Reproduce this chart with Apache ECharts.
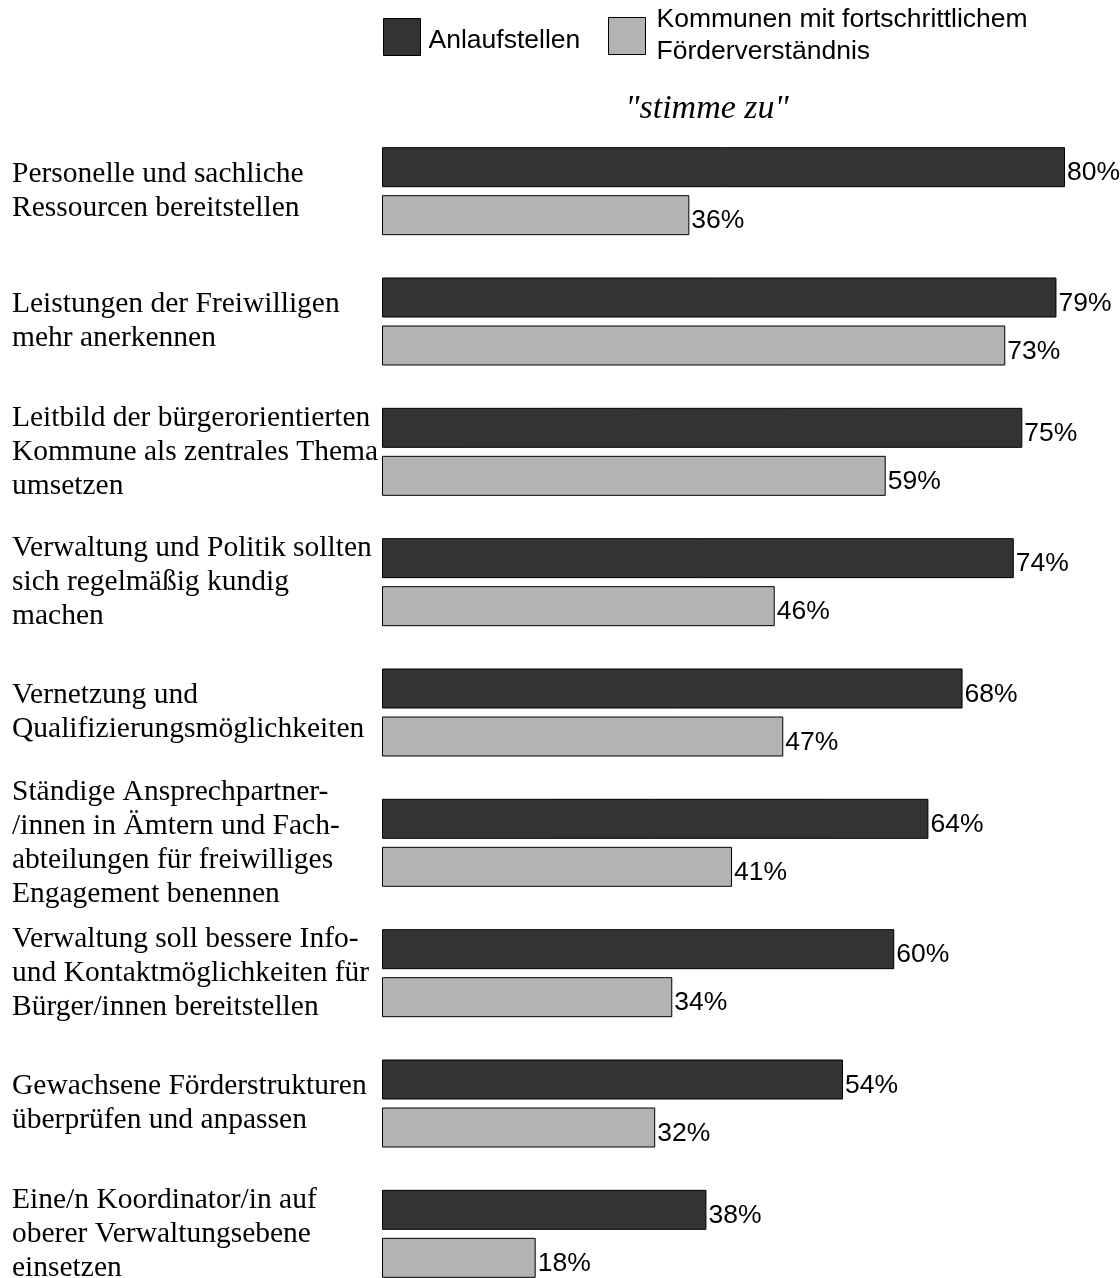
<!DOCTYPE html>
<html>
<head>
<meta charset="utf-8">
<script src="https://cdn.jsdelivr.net/npm/echarts@6/dist/echarts.min.js"></script>
<style>
html,body{margin:0;padding:0;background:#fff;overflow:hidden;}
#chart{width:1120px;height:1330px;}
</style>
</head>
<body>
<div id="chart"></div>
<script>
const categories = [
  "Personelle und sachliche\nRessourcen bereitstellen",
  "Leistungen der Freiwilligen\nmehr anerkennen",
  "Leitbild der bürgerorientierten\nKommune als zentrales Thema\numsetzen",
  "Verwaltung und Politik sollten\nsich regelmäßig kundig\nmachen",
  "Vernetzung und\nQualifizierungsmöglichkeiten",
  "Ständige Ansprechpartner-\n/innen in Ämtern und Fach-\nabteilungen für freiwilliges\nEngagement benennen",
  "Verwaltung soll bessere Info-\nund Kontaktmöglichkeiten für\nBürger/innen bereitstellen",
  "Gewachsene Förderstrukturen\nüberprüfen und anpassen",
  "Eine/n Koordinator/in auf\noberer Verwaltungsebene\neinsetzen"
];
const seriesNames = ["Anlaufstellen", "Kommunen mit fortschrittlichem\nFörderverständnis"];
const anlaufstellen = [80, 79, 75, 74, 68, 64, 60, 54, 38];
const kommunen = [36, 73, 59, 46, 47, 41, 34, 32, 18];
const subtitle = '"stimme zu"';

const chart = echarts.init(document.getElementById('chart'));
const labelStyle = {
  show: true, position: 'right', distance: 2, offset: [0, 6],
  formatter: '{c}%', color: '#000', fontSize: 26.5,
  fontFamily: 'Liberation Sans, Arial, sans-serif'
};
chart.setOption({
  animation: false,
  backgroundColor: '#fff',
  title: {
    text: subtitle, left: 707, top: 92, textAlign: 'center', padding: 0,
    textStyle: { fontFamily: 'Liberation Serif, Times New Roman, serif', fontStyle: 'italic', fontWeight: 'normal', fontSize: 34, color: '#000' }
  },
  legend: [
    { data: [seriesNames[0]], left: 383, top: 18, padding: 0, icon: 'rect', itemWidth: 37, itemHeight: 37, itemGap: 10,
      itemStyle: { borderColor: '#000', borderWidth: 1 },
      formatter: '{a|{name}}',
      textStyle: { fontFamily: 'Liberation Sans, Arial, sans-serif', fontSize: 26.5, color: '#000',
        rich: { a: { fontFamily: 'Liberation Sans, Arial, sans-serif', fontSize: 26.5, color: '#000', lineHeight: 30, padding: [8, 0, 0, 3] } } } },
    { data: [seriesNames[1]], left: 608, top: 4, padding: 0, icon: 'rect', itemWidth: 37, itemHeight: 37, itemGap: 10,
      itemStyle: { borderColor: '#000', borderWidth: 1 },
      textStyle: { fontFamily: 'Liberation Sans, Arial, sans-serif', fontSize: 26.5, lineHeight: 32, color: '#000', padding: [0,0,0,6] } }
  ],
  grid: { left: 382, top: 126, width: 683, height: 1173 },
  xAxis: { type: 'value', min: 0, max: 80, show: false },
  yAxis: {
    type: 'category', data: categories, inverse: true,
    axisLine: { show: false }, axisTick: { show: false },
    axisLabel: {
      align: 'left', margin: 370, color: '#000', fontSize: 29.5, lineHeight: 34,
      fontFamily: 'Liberation Serif, Times New Roman, serif', interval: 0
    }
  },
  series: [
    { name: seriesNames[0], type: 'bar', data: anlaufstellen, barWidth: 40, barGap: '20%',
      itemStyle: { color: '#333333', borderColor: '#000', borderWidth: 1 }, label: labelStyle },
    { name: seriesNames[1], type: 'bar', data: kommunen, barWidth: 40,
      itemStyle: { color: '#b3b3b3', borderColor: '#000', borderWidth: 1 }, label: labelStyle }
  ]
});
</script>
</body>
</html>
